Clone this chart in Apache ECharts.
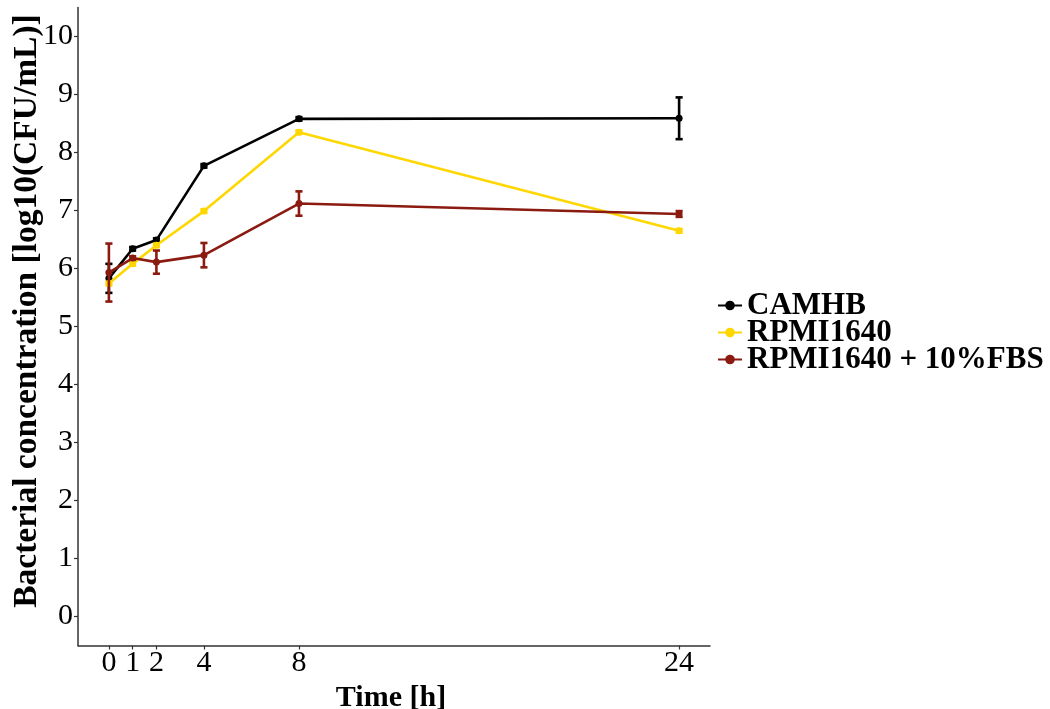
<!DOCTYPE html>
<html>
<head>
<meta charset="utf-8">
<script src="https://cdn.jsdelivr.net/npm/echarts@6/dist/echarts.min.js"></script>
<style>html,body{margin:0;padding:0;background:#fff}#c{width:1050px;height:709px}</style>
</head>
<body>
<div id="c"></div>
<script>
const times = [0, 1, 2, 4, 8, 24];
const xTicks = [0, 1, 2, 4, 8, 24];
const yTicks = [0, 1, 2, 3, 4, 5, 6, 7, 8, 9, 10];
const seriesNames = ['CAMHB', 'RPMI1640', 'RPMI1640 + 10%FBS'];
const camhbMean = [5.83, 6.34, 6.49, 7.77, 8.58, 8.59];
const camhbSd   = [0.25, 0.03, 0.03, 0.03, 0.03, 0.36];
const rpmiMean  = [5.74, 6.08, 6.40, 6.99, 8.35, 6.65];
const rpmiSd    = [0.03, 0.03, 0.03, 0.03, 0.03, 0.03];
const fbsMean   = [5.93, 6.18, 6.11, 6.23, 7.12, 6.94];
const fbsSd     = [0.50, 0.03, 0.20, 0.21, 0.21, 0.05];
const colors = ['#000000', '#FFD700', '#8B1A10'];
const yTitle = 'Bacterial concentration [log10(CFU/mL)]';
const xTitle = 'Time [h]';

const FONT = 'Liberation Serif';
const means = [camhbMean, rpmiMean, fbsMean];
const sds = [camhbSd, rpmiSd, fbsSd];

const series = [];
means.forEach((m, i) => {
  series.push({
    name: seriesNames[i],
    type: 'line',
    data: times.map((t, k) => [t, m[k]]),
    symbol: 'circle',
    symbolSize: 7,
    lineStyle: { width: 2.6, color: colors[i] },
    itemStyle: { color: colors[i] },
    z: 2 + i * 2,
    animation: false
  });
  series.push({
    name: seriesNames[i],
    type: 'custom',
    data: times.map((t, k) => [t, m[k] - sds[i][k], m[k] + sds[i][k]]),
    renderItem: function (params, api) {
      const x = api.value(0);
      const lo = api.coord([x, api.value(1)]);
      const hi = api.coord([x, api.value(2)]);
      const hw = api.size([0.3, 0])[0] / 2;
      const st = { stroke: colors[i], lineWidth: 2.6 };
      return {
        type: 'group',
        children: [
          { type: 'line', shape: { x1: lo[0], y1: lo[1], x2: hi[0], y2: hi[1] }, style: st },
          { type: 'line', shape: { x1: lo[0] - hw, y1: lo[1], x2: lo[0] + hw, y2: lo[1] }, style: st },
          { type: 'line', shape: { x1: hi[0] - hw, y1: hi[1], x2: hi[0] + hw, y2: hi[1] }, style: st }
        ]
      };
    },
    z: 3 + i * 2,
    animation: false
  });
});

const chart = echarts.init(document.getElementById('c'));
chart.setOption({
  animation: false,
  backgroundColor: '#fff',
  grid: { left: 78, right: 340, top: 7.5, bottom: 63.5, containLabel: false, outerBoundsMode: 'none' },
  legend: {
    data: seriesNames,
    orient: 'vertical',
    left: 712,
    top: 285,
    itemWidth: 24,
    itemHeight: 12,
    itemGap: -4,
    textStyle: { fontFamily: FONT, fontWeight: 'bold', fontSize: 31, color: '#000' }
  },
  graphic: [{
    type: 'text',
    x: 27,
    y: 311,
    rotation: Math.PI / 2,
    style: {
      text: yTitle,
      fontFamily: FONT,
      fontWeight: 'bold',
      fontSize: 33.5,
      fill: '#000',
      align: 'center',
      verticalAlign: 'middle'
    }
  }],
  xAxis: {
    type: 'value',
    min: -1.3,
    max: 25.3,
    name: xTitle,
    nameLocation: 'middle',
    nameGap: 30,
    nameTextStyle: { fontFamily: FONT, fontWeight: 'bold', fontSize: 30, color: '#000', padding: [0, 6, 0, 0] },
    splitLine: { show: false },
    axisLine: { show: true, onZero: false, lineStyle: { color: '#333', width: 1.5 } },
    axisTick: { show: true, length: 4, lineStyle: { color: '#333', width: 1.2 }, customValues: xTicks },
    axisLabel: { fontFamily: FONT, fontSize: 30, color: '#000', margin: 3, customValues: xTicks }
  },
  yAxis: {
    type: 'value',
    min: -0.5,
    max: 10.5,
    splitLine: { show: false },
    axisLine: { show: true, onZero: false, lineStyle: { color: '#333', width: 1.5 } },
    axisTick: { show: true, length: 4, lineStyle: { color: '#333', width: 1.2 }, customValues: yTicks },
    axisLabel: { fontFamily: FONT, fontSize: 30, color: '#000', margin: 5, customValues: yTicks }
  },
  series: series
});
</script>
</body>
</html>
